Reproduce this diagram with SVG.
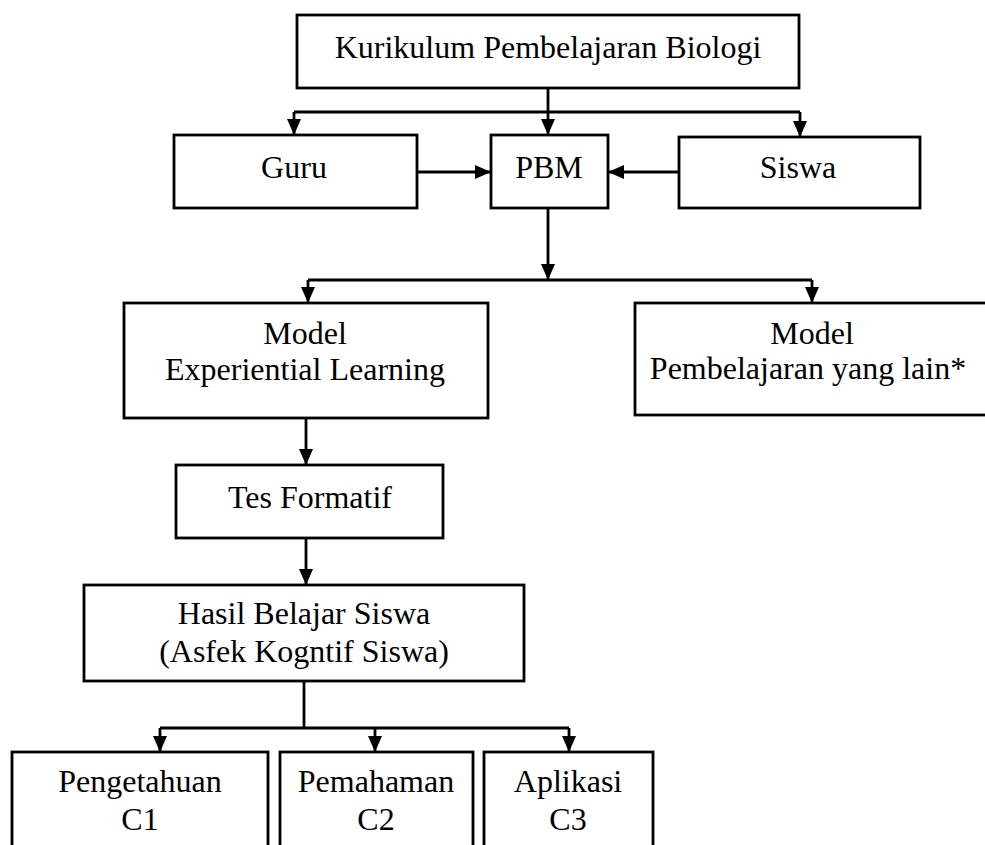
<svg xmlns="http://www.w3.org/2000/svg" width="985" height="845" viewBox="0 0 985 845">
<defs>
<marker id="ah" viewBox="0 0 16 14" refX="16" refY="7" markerWidth="16" markerHeight="14" markerUnits="userSpaceOnUse" orient="auto">
<path d="M0,0 L16,7 L0,14 z" fill="#000"/>
</marker>
<style>
.box{fill:#fff;stroke:#000;stroke-width:2.8}
.t{font-family:"Liberation Serif","Times New Roman",serif;font-size:32px;fill:#000;text-anchor:middle}
.c{fill:none;stroke:#000;stroke-width:2.8}
.a{fill:none;stroke:#000;stroke-width:2.8;marker-end:url(#ah)}
</style>
</defs>
<rect width="985" height="845" fill="#fff"/>
<g id="connectors">
<line class="c" x1="548" y1="88" x2="548" y2="112"/>
<line class="c" x1="294" y1="112" x2="800" y2="112"/>
<line class="a" x1="294" y1="112" x2="294" y2="135"/>
<line class="a" x1="548" y1="112" x2="548" y2="135"/>
<line class="a" x1="800" y1="112" x2="800" y2="137"/>
<line class="a" x1="417" y1="172" x2="491" y2="172"/>
<line class="a" x1="679" y1="172" x2="608" y2="172"/>
<line class="a" x1="548" y1="208" x2="548" y2="280"/>
<line class="c" x1="308" y1="280" x2="812" y2="280"/>
<line class="a" x1="308" y1="280" x2="308" y2="303"/>
<line class="a" x1="812" y1="280" x2="812" y2="303"/>
<line class="a" x1="306" y1="418" x2="306" y2="465"/>
<line class="a" x1="306" y1="538" x2="306" y2="585"/>
<line class="c" x1="304" y1="681" x2="304" y2="728"/>
<line class="c" x1="160" y1="728" x2="569" y2="728"/>
<line class="a" x1="160" y1="728" x2="160" y2="752"/>
<line class="a" x1="375" y1="728" x2="375" y2="752"/>
<line class="a" x1="569" y1="728" x2="569" y2="752"/>
</g>
<g id="kurikulum">
<rect class="box" x="297" y="15" width="502" height="73"/>
<text class="t" x="548" y="58">Kurikulum Pembelajaran Biologi</text>
</g>
<g id="guru">
<rect class="box" x="174" y="135" width="243" height="73"/>
<text class="t" x="294" y="178">Guru</text>
</g>
<g id="pbm">
<rect class="box" x="491" y="135" width="117" height="73"/>
<text class="t" x="549" y="178">PBM</text>
</g>
<g id="siswa">
<rect class="box" x="679" y="137" width="241" height="71"/>
<text class="t" x="798" y="178">Siswa</text>
</g>
<g id="model-el">
<rect class="box" x="124" y="303" width="364" height="115"/>
<text class="t" x="305" y="344">Model</text>
<text class="t" x="305" y="380">Experiential Learning</text>
</g>
<g id="model-lain">
<rect class="box" x="635" y="303" width="360" height="112"/>
<text class="t" x="812" y="344">Model</text>
<text class="t" x="808" y="379">Pembelajaran yang lain*</text>
</g>
<g id="tes-formatif">
<rect class="box" x="176" y="465" width="267" height="73"/>
<text class="t" x="310" y="508">Tes Formatif</text>
</g>
<g id="hasil">
<rect class="box" x="84" y="585" width="440" height="96"/>
<text class="t" x="304" y="624">Hasil Belajar Siswa</text>
<text class="t" x="304" y="662">(Asfek Kogntif Siswa)</text>
</g>
<g id="pengetahuan">
<rect class="box" x="12" y="752" width="256" height="110"/>
<text class="t" x="140" y="792">Pengetahuan</text>
<text class="t" x="140" y="830">C1</text>
</g>
<g id="pemahaman">
<rect class="box" x="280" y="752" width="193" height="110"/>
<text class="t" x="376" y="792">Pemahaman</text>
<text class="t" x="376" y="830">C2</text>
</g>
<g id="aplikasi">
<rect class="box" x="484" y="752" width="169" height="110"/>
<text class="t" x="568" y="792">Aplikasi</text>
<text class="t" x="568" y="830">C3</text>
</g>
</svg>
